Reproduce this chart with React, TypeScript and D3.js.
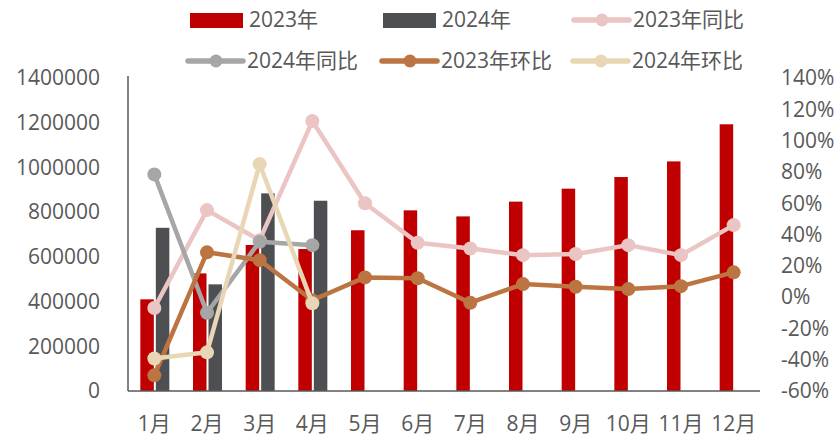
import React, { useEffect, useRef } from 'react';
import * as d3 from 'd3';

const months = ['1月', '2月', '3月', '4月', '5月', '6月', '7月', '8月', '9月', '10月', '11月', '12月'];

const sales2023 = [410000, 526000, 653000, 635000, 719000, 808000, 781000, 847000, 905000, 957000, 1027000, 1193000];
const sales2024 = [730000, 477000, 884000, 851000];

// percentages
const yoy2023 = [-7, 55.6, 36.4, 112.5, 60, 34.7, 31.1, 26.8, 27.5, 33.2, 26.8, 46];
const yoy2024 = [78.4, -10, 35.4, 33.2];
const mom2023 = [-50, 28.6, 23.6, -2, 12.6, 12, -3.6, 8.3, 6.6, 5.1, 7, 15.8];
const mom2024 = [-39.2, -35.3, 85, -4];

const leftTicks = [0, 200000, 400000, 600000, 800000, 1000000, 1200000, 1400000];
const rightTicks = [-60, -40, -20, 0, 20, 40, 60, 80, 100, 120, 140];

const W = 839;
const H = 436;
const FONT = '"Open Sans", "Noto Sans CJK SC", sans-serif';
const TEXT = '#595959';

const lines = [
    { name: '2023年同比', data: yoy2023, color: '#EBC4C4' },
    { name: '2024年同比', data: yoy2024, color: '#A6A6A6' },
    { name: '2023年环比', data: mom2023, color: '#BC7542' },
    { name: '2024年环比', data: mom2024, color: '#E8D6B5' },
];

const Chart = () => {
    const svgRef = useRef(null);

    useEffect(() => {
        const svg = d3.select(svgRef.current);
        svg.selectAll('*').remove();

        const left = 128, right = 760, top = 78, bottom = 391;

        const x = d3.scaleBand().domain(months).range([left, right]);
        const yL = d3.scaleLinear().domain([0, 1400000]).range([bottom, top]);
        const yR = d3.scaleLinear().domain([-60, 140]).range([bottom, top]);
        const cx = (m) => x(m) + x.bandwidth() / 2;

        // bars
        const barW = 13.5;
        svg.append('g').selectAll('rect')
            .data(sales2023)
            .enter().append('rect')
            .attr('x', (d, i) => cx(months[i]) - barW - 0.5)
            .attr('y', d => yL(d))
            .attr('width', barW)
            .attr('height', d => bottom - yL(d))
            .attr('fill', '#C00000');

        svg.append('g').selectAll('rect')
            .data(sales2024)
            .enter().append('rect')
            .attr('x', (d, i) => cx(months[i]) + 1.5)
            .attr('y', d => yL(d))
            .attr('width', barW)
            .attr('height', d => bottom - yL(d))
            .attr('fill', '#4D4F52');

        // axis lines
        svg.append('line')
            .attr('x1', left).attr('x2', left).attr('y1', top - 2).attr('y2', bottom)
            .attr('stroke', '#595959').attr('stroke-width', 1.5);
        svg.append('line')
            .attr('x1', left).attr('x2', right).attr('y1', bottom).attr('y2', bottom)
            .attr('stroke', '#595959').attr('stroke-width', 1.5);

        // lines
        lines.forEach(s => {
            const line = d3.line()
                .x((d, i) => cx(months[i]))
                .y(d => yR(d));
            svg.append('path')
                .datum(s.data)
                .attr('fill', 'none')
                .attr('stroke', s.color)
                .attr('stroke-width', 4.5)
                .attr('stroke-linejoin', 'round')
                .attr('d', line);
            svg.append('g').selectAll('circle')
                .data(s.data)
                .enter().append('circle')
                .attr('cx', (d, i) => cx(months[i]))
                .attr('cy', d => yR(d))
                .attr('r', 7)
                .attr('fill', s.color);
        });

        // tick labels
        svg.append('g').selectAll('text')
            .data(leftTicks)
            .enter().append('text')
            .attr('x', 100)
            .attr('y', d => yL(d))
            .attr('dy', '0.35em')
            .attr('text-anchor', 'end')
            .text(d => d);

        svg.append('g').selectAll('text')
            .data(rightTicks)
            .enter().append('text')
            .attr('x', 781)
            .attr('y', d => yR(d))
            .attr('dy', '0.35em')
            .text(d => d + '%');

        svg.append('g').selectAll('text')
            .data(months)
            .enter().append('text')
            .attr('x', d => cx(d))
            .attr('y', 424)
            .attr('dy', '0.35em')
            .attr('text-anchor', 'middle')
            .text(d => d);

        // legend
        const legend = [
            { name: '2023年', color: '#C00000', type: 'rect', x: 190, y: 20 },
            { name: '2024年', color: '#4D4F52', type: 'rect', x: 383, y: 20 },
            { name: lines[0].name, color: lines[0].color, type: 'line', x: 574, y: 20 },
            { name: lines[1].name, color: lines[1].color, type: 'line', x: 188, y: 61 },
            { name: lines[2].name, color: lines[2].color, type: 'line', x: 382, y: 61 },
            { name: lines[3].name, color: lines[3].color, type: 'line', x: 573, y: 61 },
        ];
        const lg = svg.append('g');
        legend.forEach(l => {
            if (l.type === 'rect') {
                lg.append('rect')
                    .attr('x', l.x).attr('y', l.y - 7).attr('width', 53).attr('height', 15)
                    .attr('fill', l.color);
            } else {
                lg.append('line')
                    .attr('x1', l.x).attr('x2', l.x + 55).attr('y1', l.y).attr('y2', l.y)
                    .attr('stroke', l.color).attr('stroke-width', 5.5).attr('stroke-linecap', 'round');
                lg.append('circle')
                    .attr('cx', l.x + 28).attr('cy', l.y).attr('r', 6.5)
                    .attr('fill', l.color);
            }
            lg.append('text')
                .attr('x', l.x + 59)
                .attr('y', l.y)
                .attr('dy', '0.35em')
                .text(l.name);
        });

        svg.selectAll('text')
            .style('font-family', FONT)
            .style('font-size', '21px')
            .style('fill', TEXT);
    }, []);

    return <svg ref={svgRef} width={W} height={H} style={{ display: 'block' }} />;
};

export default function App() {
    return (
        <div style={{ position: 'absolute', left: 0, top: 0 }}>
            <Chart />
        </div>
    );
}
